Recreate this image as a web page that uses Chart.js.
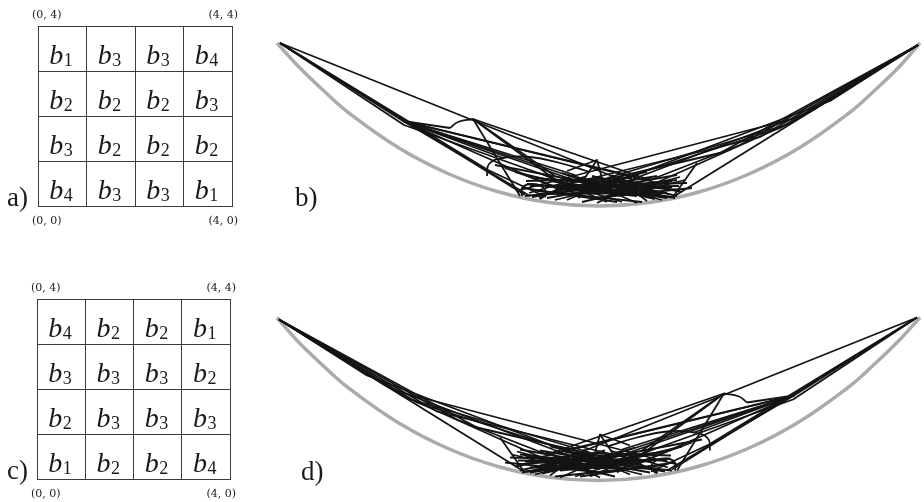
<!DOCTYPE html>
<html><head><meta charset="utf-8">
<script src="https://cdn.jsdelivr.net/npm/chart.js@4.4.0/dist/chart.umd.min.js"></script>
<style>
html,body{margin:0;padding:0;background:#fff;}
#wrap{position:relative;width:924px;height:502px;overflow:hidden;background:#fff;}
canvas{position:absolute;}
</style></head><body>
<div id="wrap">
<canvas id="ca" width="250" height="235" style="left:0;top:0"></canvas>
<canvas id="cc" width="250" height="232" style="left:0;top:270px"></canvas>
<canvas id="cb" width="664" height="190" style="left:260px;top:30px"></canvas>
<canvas id="cd" width="664" height="190" style="left:260px;top:304px"></canvas>
</div>
<script>
// ---------- data ----------
const gridTicks = [0, 1, 2, 3, 4];
const cornerLabels = ["(0, 4)", "(4, 4)", "(0, 0)", "(4, 0)"];
// subscript index of b in each cell, rows listed top to bottom
const cellsA = [[1,3,3,4],[2,2,2,3],[3,2,2,2],[4,3,3,1]];
const cellsC = [[4,2,2,1],[3,3,3,2],[2,3,3,3],[1,2,2,4]];
const panelLetters = ["a)", "b)", "c)", "d)"];

// boundary curve (x along span, y height above lowest point)
const boundaryX = [0, 2.2, 4.7, 7.2, 12.2, 17.2, 22.2, 27.2, 32.2, 37.2, 42.2, 47.2, 52.2, 57.2, 59.7, 62.2, 64.3];
const boundaryY = [16.3, 13.9, 11.5, 9.3, 5.8, 3.2, 1.4, 0.35, 0, 0.35, 1.4, 3.2, 5.8, 9.3, 11.5, 13.9, 16.3];

// trajectory pieces, flat [x1,y1,x2,y2,...]
const apexRays = [
  [0.3,16.3, 39.0,0.8],
  [0.3,16.3, 12.6,8.5],
  [0.3,16.3, 12.7,8.1, 32.3,1.1],
  [0.3,16.3, 24.8,1.1],
  [0.3,16.3, 21.1,3.6, 26.9,0.9]
];
const fanRays = [
  [12.6,8.5, 17.3,7.8],
  [12.6,8.5, 28.3,1.6],
  [12.6,8.5, 32.3,2.0],
  [12.6,8.5, 36.3,2.8],
  [12.6,8.5, 29.8,3.1],
  [12.6,8.5, 25.3,1.0],
  [12.6,8.5, 34.3,1.0],
  [12.6,8.5, 22.6,4.8],
  [12.6,8.5, 38.5,2.2],
  [19.6,8.7, 24.3,1.0],
  [19.6,8.7, 37.3,2.6],
  [19.6,8.7, 30.3,0.8],
  [19.6,8.7, 27.8,3.0]
];
const arcs = [
  [17.3,7.8, 18.1,8.4, 19.6,8.7],
  [21.0,3.0, 21.2,4.2, 22.6,4.8, 25.3,4.9, 28.3,4.3, 31.3,3.4],
  [24.5,1.0, 24.5,1.8, 25.3,2.2, 26.4,2.0, 26.9,1.2, 26.3,0.7]
];
const cluster = [
  [24.8,1.0, 40.0,2.6], [25.0,2.2, 39.5,0.9], [25.5,0.9, 38.0,3.0], [25.8,2.8, 40.3,1.6],
  [26.0,1.5, 36.5,0.4], [26.5,3.2, 33.0,0.4], [27.0,0.8, 40.0,3.1], [27.5,2.5, 39.0,0.8],
  [28.0,1.2, 37.0,3.4], [28.5,3.3, 38.5,0.6], [29.0,0.6, 35.0,3.2], [29.5,1.9, 40.2,2.0],
  [30.0,2.9, 36.0,0.3], [30.5,0.4, 39.5,2.5], [31.0,1.5, 38.0,1.5], [31.5,3.0, 40.0,1.0],
  [32.0,0.3, 37.5,2.9], [32.5,2.2, 39.8,0.8], [33.0,1.0, 40.3,2.9], [33.5,3.1, 37.0,0.5],
  [24.6,1.8, 34.0,0.4], [24.9,2.5, 35.5,2.8], [25.2,1.3, 31.0,3.0], [26.2,0.8, 30.0,2.6],
  [26.8,1.9, 41.0,2.3], [27.8,0.6, 33.5,2.0], [28.8,2.2, 34.5,0.4], [29.8,1.2, 36.8,2.0],
  [30.8,2.3, 37.8,0.7], [31.8,0.8, 41.5,1.8], [23.8,3.4, 31.3,1.6], [22.8,3.8, 29.3,1.4],
  [21.8,4.1, 30.8,2.4], [25.3,2.0, 38.0,2.2], [26.0,1.2, 39.0,1.3], [28.0,1.8, 36.0,1.0],
  [29.0,2.6, 34.5,2.4], [33.5,1.6, 39.5,1.9], [34.5,2.6, 40.5,1.4], [35.5,1.3, 40.8,2.6]
];
const spike = [
  [30.5,2.4, 32.0,4.6, 32.6,2.4],
  [29.0,3.5, 32.0,4.6]
];
const rightBundle = [
  [64.1,16.1, 55.3,10.5, 32.3,1.8],
  [64.1,16.1, 53.3,9.4, 34.3,2.2],
  [64.1,16.1, 52.0,8.6, 36.3,1.6],
  [64.1,16.1, 50.3,7.8, 30.3,1.4],
  [64.1,16.1, 48.3,6.9, 28.3,2.0],
  [64.1,16.1, 46.3,6.1, 37.3,2.6],
  [64.1,16.1, 44.3,5.3, 26.3,1.1],
  [64.1,16.1, 52.6,9.0, 24.3,1.6],
  [64.1,16.1, 51.2,8.2, 33.0,2.8],
  [52.0,8.6, 39.6,0.9],
  [42.0,4.3, 39.6,0.9]
];

// ---------- helpers ----------
const INK = '#141414';
const SERIF = '"Liberation Serif", "Times New Roman", serif';
function toPts(a){ const p=[]; for(let i=0;i<a.length;i+=2) p.push({x:a[i], y:a[i+1]}); return p; }
function trajectoryDatasets(){
  const ds = [{
    data: boundaryX.map((x,i)=>({x, y:boundaryY[i]})), showLine:true,
    borderColor:'#ababab', borderWidth:3.5, pointRadius:0, tension:0.4, order:10
  }];
  [apexRays, fanRays, cluster, spike, rightBundle].forEach(g => g.forEach(a => ds.push({
    data: toPts(a), showLine:true, borderColor:INK, borderWidth:1.8, pointRadius:0, tension:0, order:1,
    borderJoinStyle:'round'
  })));
  arcs.forEach(a => ds.push({data: toPts(a), showLine:true, borderColor:INK, borderWidth:1.8, pointRadius:0, tension:0.45, order:1}));
  return ds;
}

function gridPlugin(cells, letter){
  return { id:'gridText', afterDraw(chart){
    const {ctx, scales:{x, y}} = chart;
    ctx.save();
    ctx.fillStyle = '#1a1a1a';
    ctx.textBaseline = 'alphabetic';
    cells.forEach((row, r) => row.forEach((k, c) => {
      const cx = x.getPixelForValue(c + 0.5) - 1.5;
      const by = y.getPixelForValue(gridTicks[3] - r + 0.5) + 15;
      ctx.font = 'italic 28px ' + SERIF;
      const wb = ctx.measureText('b').width;
      ctx.font = '18px ' + SERIF;
      const ws = ctx.measureText(String(k)).width;
      const x0 = cx - (wb + ws) / 2;
      ctx.font = 'italic 28px ' + SERIF;
      ctx.textAlign = 'left';
      ctx.fillText('b', x0, by);
      ctx.font = '18px ' + SERIF;
      ctx.fillText(String(k), x0 + wb + 0.5, by + 2.5);
    }));
    const L = x.getPixelForValue(gridTicks[0]), R = x.getPixelForValue(gridTicks[4]);
    const T = y.getPixelForValue(gridTicks[4]), B = y.getPixelForValue(gridTicks[0]);
    ctx.font = '11px "DejaVu Serif"';
    ctx.textAlign = 'left';  ctx.fillText(cornerLabels[0], L - 6, T - 8);
    ctx.textAlign = 'right'; ctx.fillText(cornerLabels[1], R + 6, T - 8);
    ctx.textAlign = 'left';  ctx.fillText(cornerLabels[2], L - 6, B + 18);
    ctx.textAlign = 'right'; ctx.fillText(cornerLabels[3], R + 6, B + 18);
    ctx.font = '27px ' + SERIF;
    ctx.textAlign = 'left';
    ctx.fillText(letter, 7, B);
    ctx.restore();
  }};
}

function gridChart(id, cells, letter, pad){
  const axis = {
    type:'linear', min:gridTicks[0], max:gridTicks[4],
    ticks:{display:false, stepSize:1},
    grid:{color:'#3c3c3c', lineWidth:1, drawTicks:false},
    border:{display:true, color:'#3c3c3c', width:1}
  };
  return new Chart(document.getElementById(id), {
    type:'scatter',
    data:{datasets:[{data:[], pointRadius:0}]},
    options:{
      responsive:false, animation:false, events:[],
      layout:{padding:pad},
      plugins:{legend:{display:false}, tooltip:{enabled:false}},
      scales:{ x:Object.assign({position:'bottom'}, axis), y:Object.assign({position:'left'}, axis) }
    },
    plugins:[gridPlugin(cells, letter)]
  });
}

function letterPlugin(letter, lx, ly){
  return { id:'letter', afterDraw(chart){
    const ctx = chart.ctx; ctx.save();
    ctx.fillStyle = '#1a1a1a'; ctx.font = '27px ' + SERIF;
    ctx.textAlign = 'left'; ctx.textBaseline = 'alphabetic';
    ctx.fillText(letter, lx, ly); ctx.restore();
  }};
}

function trajChart(id, letter, xr, yr, reverse, lx){
  return new Chart(document.getElementById(id), {
    type:'scatter',
    data:{datasets: trajectoryDatasets()},
    options:{
      responsive:false, animation:false, events:[],
      layout:{padding:0},
      plugins:{legend:{display:false}, tooltip:{enabled:false}},
      scales:{
        x:{type:'linear', display:false, min:xr[0], max:xr[1], reverse:reverse},
        y:{type:'linear', display:false, min:yr[0], max:yr[1]}
      }
    },
    plugins:[letterPlugin(letter, lx, 176)]
  });
}

gridChart('ca', cellsA, panelLetters[0], {left:38, top:26, right:18, bottom:29});
gridChart('cc', cellsC, panelLetters[2], {left:37, top:29, right:20, bottom:23});
trajChart('cb', panelLetters[1], [-1.7, 64.7], [-1.4, 17.6], false, 35);
// panel d is the mirror image of panel b
trajChart('cd', panelLetters[3], [-0.4, 66.0], [-1.35, 17.65], true, 41);
</script>
</body></html>
